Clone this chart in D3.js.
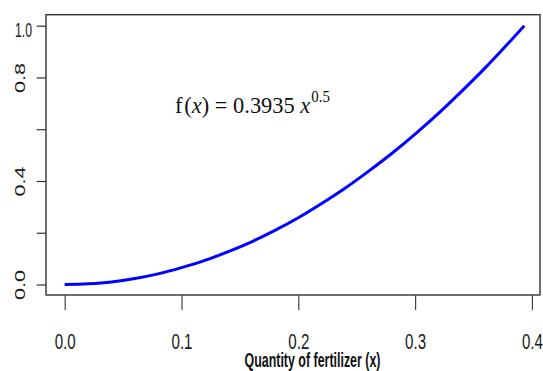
<!DOCTYPE html>
<html>
<head>
<meta charset="utf-8">
<script src="https://cdn.jsdelivr.net/npm/d3@7"></script>
<style>
  html, body { margin: 0; padding: 0; background: #fff; }
  svg { display: block; }
</style>
</head>
<body>
<svg id="chart" width="543" height="371"></svg>
<script>
// Fertilizer quantity (x) and the response curve values read along it
const xValues = [0, 0.02, 0.04, 0.06, 0.08, 0.10, 0.12, 0.14, 0.16, 0.18, 0.20,
                 0.22, 0.24, 0.26, 0.28, 0.30, 0.32, 0.34, 0.36, 0.38, 0.3935];
const yValues = [0, 0.003, 0.010, 0.023, 0.041, 0.065, 0.093, 0.127, 0.165, 0.209, 0.258,
                 0.313, 0.372, 0.437, 0.506, 0.581, 0.661, 0.747, 0.837, 0.933, 1.0];

const xTicks = [0, 0.1, 0.2, 0.3, 0.4];
const xTickLabels = ["0.0", "0.1", "0.2", "0.3", "0.4"];
const yTicks = [0, 0.2, 0.4, 0.6, 0.8, 1.0];
const yTickLabels = ["0.0", "", "0.4", "", "0.8", "1.0"];
const xTitle = "Quantity of fertilizer (x)";

const svg = d3.select("#chart");

const box = { left: 46, right: 540, top: 14.7, bottom: 295 };
const x = d3.scaleLinear().domain([0, 0.4]).range([64.7, 531.9]);
const y = d3.scaleLinear().domain([0, 1]).range([284.5, 25.7]);

// Plot frame
svg.append("rect")
  .attr("x", box.left).attr("y", box.top)
  .attr("width", box.right - box.left).attr("height", box.bottom - box.top)
  .attr("fill", "none").attr("stroke", "#333").attr("stroke-width", 1.4);

// Bottom axis: ticks hang below the frame
const xAxis = svg.append("g")
  .attr("transform", `translate(0,${box.bottom})`)
  .call(d3.axisBottom(x).tickValues(xTicks).tickSize(15)
        .tickFormat((d, i) => xTickLabels[i]));
xAxis.select(".domain").remove();
xAxis.selectAll(".tick line").attr("stroke", "#444").attr("stroke-width", 1.2);
xAxis.selectAll(".tick text")
  .attr("y", 54).attr("dy", null)
  .attr("fill", "#1a1a1a")
  .style("font-family", "'Liberation Sans', Arial, sans-serif")
  .style("font-size", "22px")
  .attr("textLength", 21).attr("lengthAdjust", "spacingAndGlyphs");

// Left axis: rotated labels, the top one upright
const yAxis = svg.append("g")
  .attr("transform", `translate(${box.left},0)`)
  .call(d3.axisLeft(y).tickValues(yTicks).tickSize(9.3)
        .tickFormat((d, i) => yTickLabels[i]));
yAxis.select(".domain").remove();
yAxis.selectAll(".tick line").attr("stroke", "#333").attr("stroke-width", 1.2);
yAxis.selectAll(".tick text").each(function (d, i) {
  const t = d3.select(this)
    .attr("fill", "#1a1a1a")
    .style("font-family", "'Liberation Sans', Arial, sans-serif")
    .attr("dy", null);
  if (i === yTicks.length - 1) {
    t.attr("text-anchor", "middle")
      .attr("x", -22.5).attr("y", 10.5)
      .style("font-size", "20px")
      .attr("textLength", 17).attr("lengthAdjust", "spacingAndGlyphs");
  } else {
    t.attr("text-anchor", "middle")
      .attr("x", 0).attr("y", 0)
      .attr("transform", "translate(-21.5,0) rotate(-90)")
      .style("font-size", "15px")
      .attr("textLength", 30).attr("lengthAdjust", "spacingAndGlyphs");
  }
});

// Axis title
svg.append("text")
  .attr("x", 312.5).attr("y", 367)
  .attr("text-anchor", "middle")
  .attr("fill", "#111")
  .style("font-family", "'Liberation Sans', Arial, sans-serif")
  .style("font-weight", "bold")
  .style("font-size", "21px")
  .attr("textLength", 136).attr("lengthAdjust", "spacingAndGlyphs")
  .text(xTitle);

// Response curve
const line = d3.line()
  .x((d, i) => x(xValues[i]))
  .y(d => y(d))
  .curve(d3.curveMonotoneX);
svg.append("path")
  .datum(yValues)
  .attr("d", line)
  .attr("fill", "none")
  .attr("stroke", "#0000ff")
  .attr("stroke-width", 3)
  .attr("stroke-linejoin", "round");

// Equation annotation, squeezed horizontally to a narrow serif look
const eqGroup = svg.append("g");
const eq = eqGroup.append("text")
  .attr("x", 0).attr("y", 0)
  .attr("fill", "#111")
  .style("font-family", "'Liberation Serif', 'Times New Roman', serif")
  .style("font-size", "24px");
eq.append("tspan").text("f");
eq.append("tspan").attr("dx", 2).text("(");
eq.append("tspan").style("font-style", "italic").text("x");
eq.append("tspan").text(") = 0.3935 ");
eq.append("tspan").style("font-style", "italic").text("x");
eq.append("tspan").attr("dy", -11).attr("dx", 1).style("font-size", "16px").text("0.5");
const eqWidth = eq.node().getBBox().width;
eqGroup.attr("transform", `translate(175,113) scale(${155 / eqWidth},1)`);
</script>
</body>
</html>
